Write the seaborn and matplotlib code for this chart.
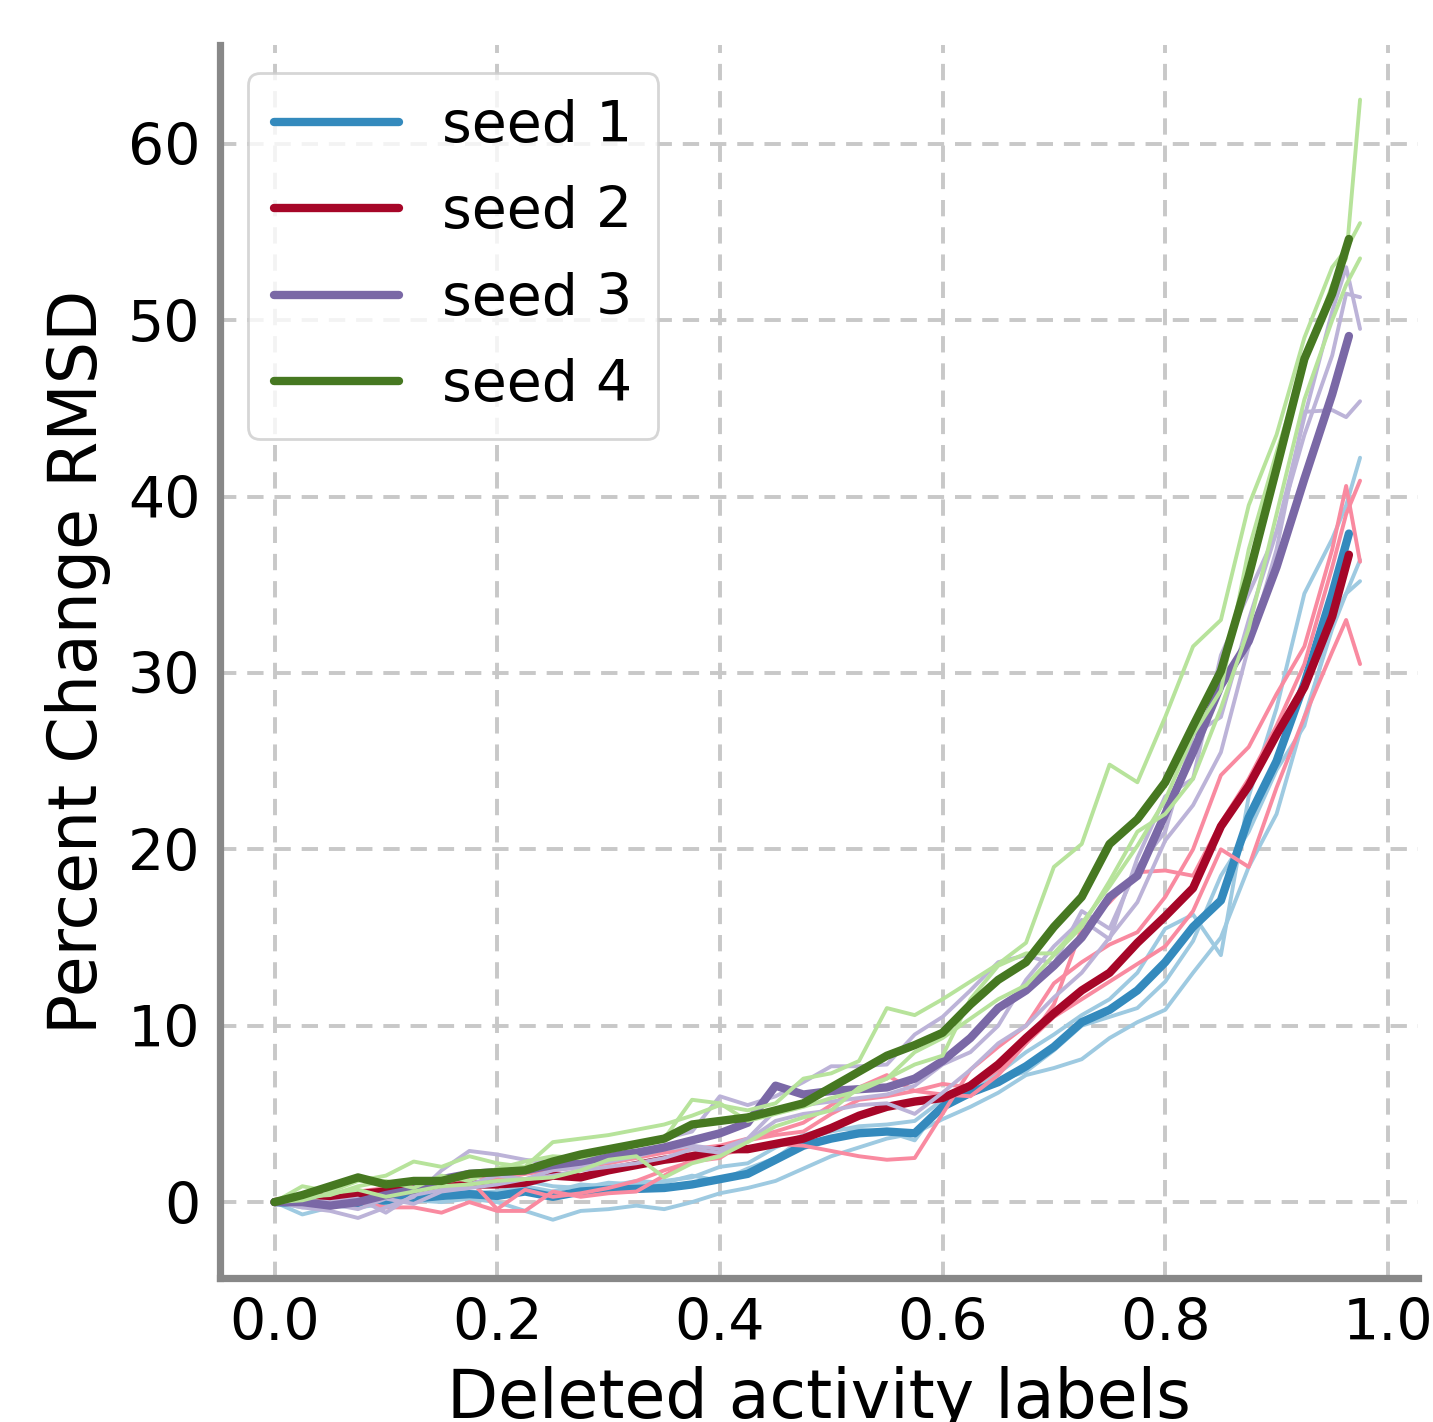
import numpy as np
import pandas as pd
import seaborn as sns
import matplotlib.pyplot as plt

# x grid of the averaged (thick) curves and of the single runs (thin)
x_mean = [0.0, 0.025, 0.05, 0.075, 0.1, 0.125, 0.15, 0.175, 0.2, 0.225,
          0.25, 0.275, 0.3, 0.325, 0.35, 0.375, 0.4, 0.425, 0.45, 0.475,
          0.5, 0.525, 0.55, 0.575, 0.6, 0.625, 0.65, 0.675, 0.7, 0.725,
          0.75, 0.775, 0.8, 0.825, 0.85, 0.875, 0.9, 0.925, 0.95, 0.965]
x_run = [0.0, 0.025, 0.05, 0.075, 0.1, 0.125, 0.15, 0.175, 0.2, 0.225,
         0.25, 0.275, 0.3, 0.325, 0.35, 0.375, 0.4, 0.425, 0.45, 0.475,
         0.5, 0.525, 0.55, 0.575, 0.6, 0.625, 0.65, 0.675, 0.7, 0.725,
         0.75, 0.775, 0.8, 0.825, 0.85, 0.875, 0.9, 0.925, 0.95, 0.9625, 0.975]

seed_names = ["seed 1", "seed 2", "seed 3", "seed 4"]

# ---- seed 1 ----
seed1_mean = [0, -0.05, 0.0, -0.05, 0.1, 0.2, 0.35, 0.45, 0.35, 0.6,
              0.3, 0.6, 0.7, 0.75, 0.8, 1.0, 1.3, 1.6, 2.4, 3.2,
              3.6, 3.9, 4.0, 3.9, 5.4, 6.2, 6.8, 7.7, 8.8, 10.2,
              10.9, 12.0, 13.6, 15.6, 17.1, 21.8, 25.0, 29.4, 34.5, 37.9]
seed1_runs = [
    [0, -0.7, -0.3, 0.0, 0.2, 0.4, 0.6, 0.5, 0.6, 0.9,
     0.6, 1.0, 0.9, 1.2, 1.1, 1.5, 1.2, 1.9, 2.5, 3.6,
     4.0, 4.3, 4.4, 4.6, 5.8, 6.5, 7.3, 8.5, 9.5, 10.6,
     11.5, 13.0, 15.5, 16.3, 14.0, 23.0, 28.0, 34.5, 37.6, 39.5, 42.2],
    [0, -0.3, -0.2, -0.3, -0.1, 0.1, 0.0, 0.2, 0.0, -0.5,
     -1.0, -0.5, -0.4, -0.2, -0.4, 0.0, 0.5, 0.8, 1.2, 1.9,
     2.6, 3.1, 3.6, 3.9, 4.7, 5.4, 6.2, 7.2, 7.6, 8.1,
     9.3, 10.2, 10.9, 13.0, 15.0, 19.0, 22.0, 27.5, 32.5, 34.5, 36.4],
    [0, 0.2, 0.1, 0.3, 0.2, 0.1, 0.4, 0.6, 0.4, 1.2,
     0.9, 0.8, 1.1, 1.0, 1.2, 1.4, 2.0, 2.2, 3.1, 3.8,
     4.2, 4.1, 4.0, 3.5, 5.6, 6.6, 6.9, 7.4, 8.6, 10.0,
     10.5, 11.0, 12.5, 14.8, 18.5, 21.0, 24.5, 27.0, 33.0, 34.5, 35.2],
]

# ---- seed 2 ----
seed2_mean = [0, 0.2, 0.3, 0.45, 0.6, 0.7, 0.8, 1.0, 1.0, 1.1,
              1.5, 1.4, 1.8, 2.1, 2.4, 2.6, 3.0, 3.0, 3.3, 3.6,
              4.2, 4.9, 5.4, 5.7, 5.9, 6.6, 7.8, 9.3, 10.7, 12.0,
              13.0, 14.7, 16.2, 17.8, 21.3, 23.6, 26.5, 29.2, 33.2, 36.7]
seed2_runs = [
    [0, 0.1, -0.2, 0.0, -0.3, -0.3, -0.6, 0.0, -0.5, -0.5,
     0.6, 0.3, 0.5, 0.6, 1.5, 2.4, 2.7, 3.0, 3.3, 3.2,
     2.9, 2.6, 2.4, 2.5, 5.0, 7.5, 8.8, 10.0, 12.4, 13.6,
     14.6, 15.3, 17.3, 20.0, 24.2, 25.8, 28.8, 31.5, 37.0, 40.6, 36.3],
    [0, 0.3, 0.2, 0.5, 0.7, 1.0, 0.9, 1.3, -0.4, 0.7,
     0.3, 0.5, 0.8, 1.2, 1.8, 2.3, 2.5, 3.5, 3.8, 4.0,
     5.0, 5.8, 6.0, 6.3, 6.1, 6.0, 7.2, 9.0, 10.5, 11.5,
     12.5, 13.5, 14.5, 16.5, 20.0, 19.0, 23.5, 27.5, 31.2, 33.0, 30.5],
    [0, 0.2, 0.4, 0.6, 0.8, 1.3, 1.2, 1.5, 1.3, 1.6,
     1.8, 2.0, 2.2, 2.5, 2.8, 3.0, 3.2, 3.6, 4.0, 4.5,
     5.5, 6.5, 7.2, 6.3, 6.7, 6.5, 7.5, 9.0, 11.2, 15.5,
     17.0, 18.7, 18.8, 18.5, 21.5, 24.0, 27.0, 30.5, 36.0, 39.0, 40.9],
]

# ---- seed 3 ----
seed3_mean = [0, 0.0, -0.2, 0.0, 0.4, 0.7, 1.3, 1.6, 1.7, 1.8,
              2.1, 2.3, 2.6, 2.8, 3.1, 3.5, 3.9, 4.5, 6.6, 6.1,
              6.3, 6.4, 6.5, 7.0, 8.0, 9.3, 11.0, 12.0, 13.4, 15.0,
              17.3, 18.5, 22.0, 25.5, 29.3, 31.8, 36.0, 41.0, 45.8, 49.1]
seed3_runs = [
    [0, -0.3, -0.5, -0.9, -0.3, 0.3, 1.8, 2.9, 2.7, 2.4,
     2.2, 2.6, 2.9, 3.3, 3.6, 4.0, 6.0, 5.5, 6.0, 6.8,
     7.7, 7.7, 7.8, 9.5, 10.5, 12.0, 13.6, 14.0, 13.5, 16.5,
     15.5, 19.0, 21.0, 26.5, 27.5, 33.0, 38.0, 43.5, 48.0, 51.5, 51.3],
    [0, 0.1, 0.0, 0.2, -0.6, 0.4, 0.7, 1.0, 1.5, 1.3,
     1.8, 2.0, 2.3, 2.6, 3.0, 3.2, 3.0, 3.6, 5.2, 5.5,
     5.7, 5.9, 6.1, 6.6, 7.8, 8.5, 10.0, 12.6, 14.5, 16.0,
     14.9, 19.5, 23.0, 24.0, 31.0, 34.5, 38.0, 44.5, 50.5, 53.0, 49.5],
    [0, -0.2, -0.1, -0.4, 0.2, -0.1, 0.6, 0.8, 1.0, 1.3,
     1.5, 1.8, 2.0, 2.2, 2.5, 3.0, 2.8, 3.5, 4.6, 5.0,
     5.2, 5.5, 5.6, 5.0, 6.2, 7.5, 9.0, 10.0, 11.6, 13.0,
     15.0, 17.0, 20.5, 22.5, 25.5, 31.5, 37.0, 44.8, 44.9, 44.5, 45.4],
]

# ---- seed 4 ----
seed4_mean = [0, 0.4, 0.9, 1.4, 1.0, 1.2, 1.2, 1.6, 1.7, 1.8,
              2.3, 2.7, 3.0, 3.3, 3.6, 4.4, 4.6, 4.8, 5.2, 5.6,
              6.5, 7.4, 8.3, 8.9, 9.6, 11.2, 12.6, 13.6, 15.6, 17.3,
              20.3, 21.7, 23.8, 27.0, 30.1, 35.5, 41.6, 47.8, 51.5, 54.6]
seed4_runs = [
    [0, 0.9, 0.6, 1.2, 1.5, 2.3, 2.0, 2.6, 2.2, 2.0,
     3.4, 3.6, 3.8, 4.1, 4.4, 4.9, 5.5, 5.2, 5.6, 7.0,
     7.3, 8.0, 11.0, 10.6, 11.5, 12.5, 13.5, 14.7, 19.0, 20.3,
     24.8, 23.8, 27.5, 31.5, 33.0, 39.5, 43.5, 49.0, 53.0, 54.0, 55.5],
    [0, 0.3, 0.4, 0.9, 1.2, 0.8, 1.5, 1.2, 1.9, 2.3,
     2.6, 2.5, 2.9, 3.2, 3.6, 5.8, 5.6, 4.6, 5.0, 5.4,
     5.9, 6.3, 7.0, 7.8, 8.3, 11.5, 13.4, 14.1, 14.1, 15.8,
     17.9, 20.2, 22.8, 26.5, 29.0, 37.0, 42.5, 47.5, 52.0, 53.5, 62.5],
    [0, 0.1, 0.5, 0.7, 0.3, 0.6, 0.9, 1.0, 1.2, 1.3,
     1.4, 1.8, 2.4, 2.6, 1.4, 2.2, 2.6, 3.4, 4.3, 4.8,
     5.2, 6.5, 7.0, 8.5, 9.3, 10.4, 11.5, 12.3, 14.0, 15.6,
     18.2, 21.0, 22.0, 24.0, 28.0, 32.5, 39.0, 45.5, 50.0, 52.0, 53.5],
]

means = [seed1_mean, seed2_mean, seed3_mean, seed4_mean]
runs = [seed1_runs, seed2_runs, seed3_runs, seed4_runs]

dark = ["#348ABD", "#A60628", "#7A68A6", "#467821"]
light = ["#9ECAE1", "#F98AA0", "#BCB3D8", "#B7E39B"]

for m in means:
    assert len(m) == len(x_mean), len(m)
for rr in runs:
    for r in rr:
        assert len(r) == len(x_run), len(r)

sns.set_style("white")
plt.rcParams['font.family'] = ['DejaVu Sans']
plt.rcParams['text.color'] = 'black'
plt.rcParams['axes.labelcolor'] = 'black'

fig = plt.figure(figsize=(1433 / 200, 1422 / 200), dpi=200)
ax = fig.add_axes([0.1535, 0.1013, 0.836, 0.8671])

for i in range(4):
    for r in runs[i]:
        sns.lineplot(x=x_run, y=r, color=light[i], lw=1.4, ax=ax, sort=False)
    sns.lineplot(x=x_mean, y=means[i], color=dark[i], lw=3.0, ax=ax,
                 sort=False, label=seed_names[i])

ax.set_xlim(-0.049, 1.027)
ax.set_ylim(-4.3, 65.6)
ax.set_xticks([0.0, 0.2, 0.4, 0.6, 0.8, 1.0])
ax.set_xticklabels(["0.0", "0.2", "0.4", "0.6", "0.8", "1.0"])
ax.set_yticks([0, 10, 20, 30, 40, 50, 60])

ax.grid(True, color="#c8c8c8", linestyle=(0, (4.2, 2.8)), lw=1.4)
ax.set_axisbelow(True)
sns.despine(ax=ax)
for s in ["left", "bottom"]:
    ax.spines[s].set_color("#888888")
    ax.spines[s].set_linewidth(2.6)
ax.tick_params(axis="both", length=0, pad=7, labelsize=20.5, colors="black")

ax.set_xlabel("Deleted activity labels", fontsize=24, labelpad=5, color="black")
ax.set_ylabel("Percent Change RMSD", fontsize=24, labelpad=6, color="black")

leg = ax.legend(loc="upper left", fontsize=20.5, handlelength=2.2,
                handletextpad=0.75, labelspacing=0.55, borderpad=0.45,
                frameon=True, fancybox=True, framealpha=0.8)
leg.get_frame().set_edgecolor("#cccccc")
for h in leg.get_lines():
    h.set_linewidth(3.0)
for t in leg.get_texts():
    t.set_color("black")

fig.savefig("out.png", dpi=200)
